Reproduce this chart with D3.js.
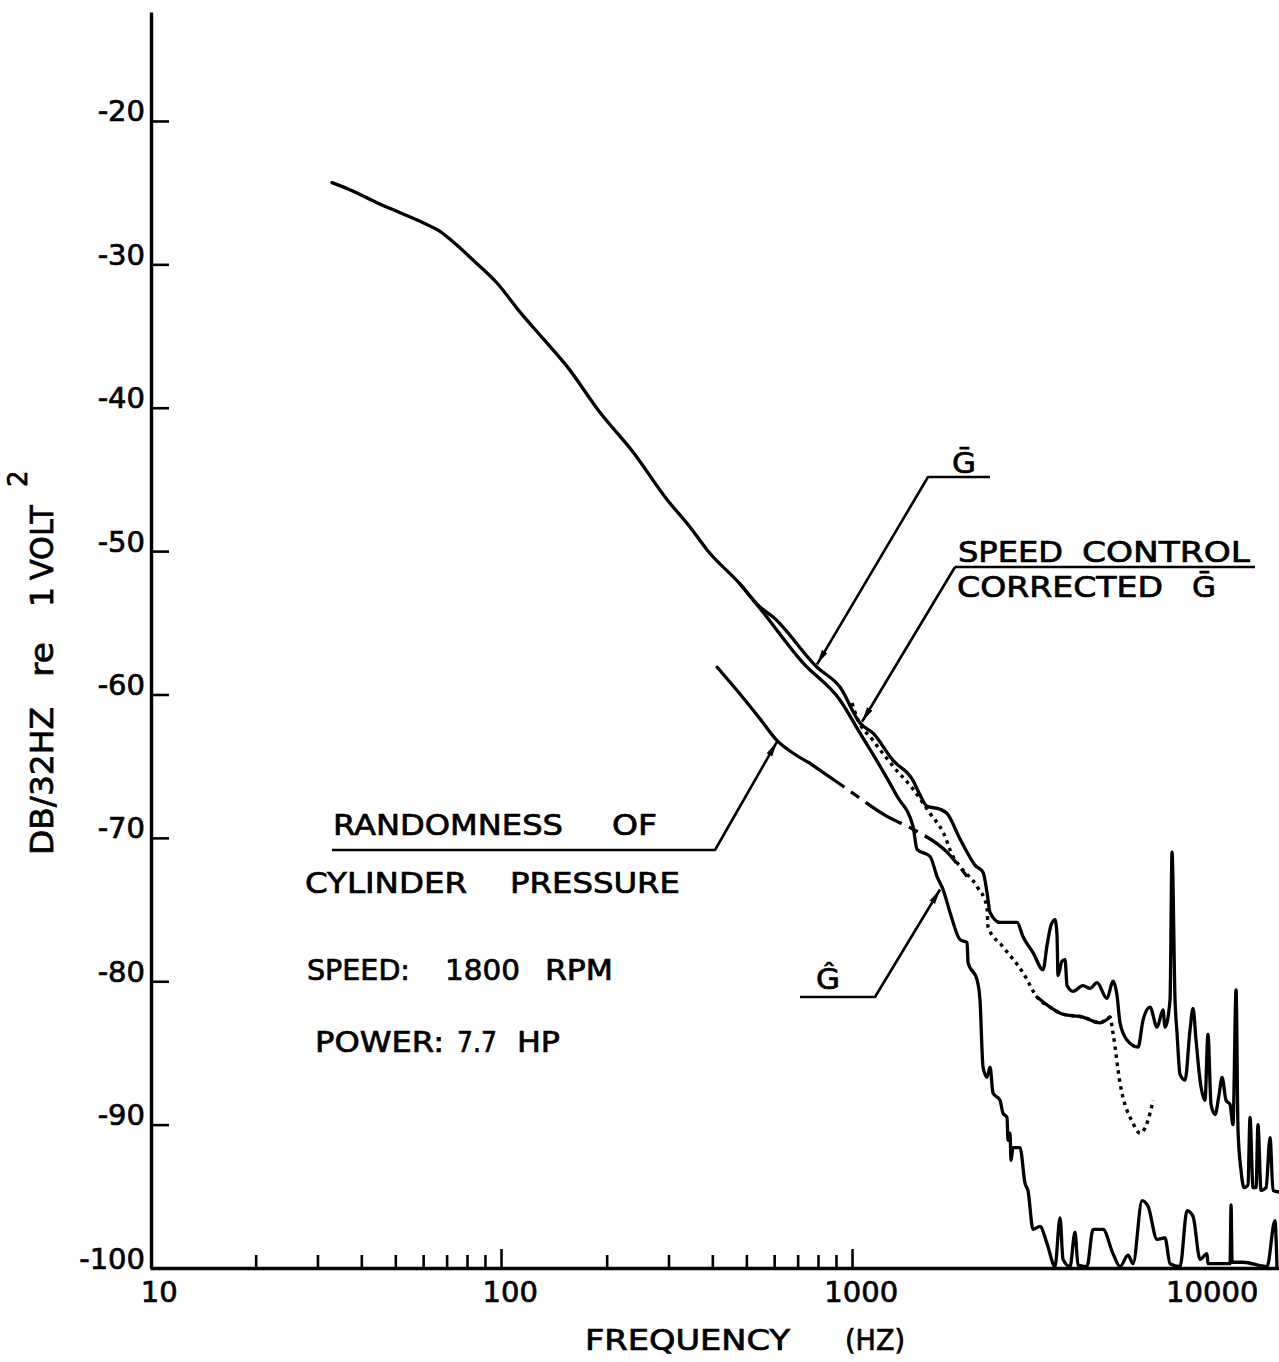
<!DOCTYPE html>
<html><head><meta charset="utf-8">
<script src="https://cdn.jsdelivr.net/npm/d3@7"></script>
<style>body{margin:0;background:#fff}svg{display:block}</style>
</head><body><svg id="c" width="1279" height="1362"></svg>
<script>
// ---------------- data (frequency Hz, level dB) ----------------
const gBarData = [
[33.0,-24.3],[37.1,-24.8],[44.3,-25.7],[51.6,-26.4],[60.0,-27.1],[67.0,-27.7],[74.4,-28.6],[83.2,-29.7],[97.4,-31.3],[113,-33.3],[132,-35.2],[154,-37.1],[191,-40.3],[238,-43.1],[297,-46.4],[345,-48.3],[386,-49.9],[480,-52.3],[547,-53.9],[596,-54.6],[795,-58.1],[925,-59.5],[1054,-62.0],[1148,-62.7],[1309,-64.6],[1492,-66.0],[1562,-67.0],[1636,-67.8],[1781,-68.0],[1865,-68.3],[2032,-70.1],[2127,-71.0],[2240,-71.9],[2362,-72.4],[2424,-73.8],[2473,-75.2],[2640,-75.9],[2952,-75.9],[3070,-76.9],[3278,-78.0],[3501,-79.2],[3594,-77.5],[3689,-76.1],[3787,-75.7],[3837,-76.8],[3863,-79.6],[3966,-78.6],[4045,-78.5],[4098,-80.3],[4261,-80.7],[4550,-80.3],[4767,-80.5],[4989,-80.1],[5325,-81.2],[5539,-80.0],[5689,-81.0],[5801,-82.9],[6074,-84.1],[6530,-84.6],[6748,-82.7],[7063,-81.8],[7395,-83.2],[7691,-82.0],[7793,-83.2],[8054,-81.3],[8160,-71.0],[8322,-81.3],[8432,-83.6],[8600,-86.5],[8887,-86.9],[9183,-83.4],[9365,-81.9],[9552,-84.1],[9806,-86.9],[10130,-88.3],[10330,-83.7],[10540,-88.6],[10820,-89.3],[11110,-87.9],[11330,-86.7],[11630,-88.3],[11940,-88.6],[12170,-90.0],[12420,-80.6],[12580,-90.4],[12830,-93.2],[13090,-94.4],[13430,-94.2],[13610,-89.5],[13880,-94.4],[14160,-94.4],[14340,-90.0],[14630,-94.6],[15120,-94.4],[15520,-90.9],[15830,-94.6],[16460,-94.7]
];
const correctedData = [
[1000,-60.6],[1033,-61.6],[1148,-63.2],[1309,-65.0],[1492,-66.6],[1669,-68.3],[1817,-69.6],[1940,-71.3],[2032,-72.0],[2271,-73.4],[2424,-74.8],[2440,-76.2],[2692,-77.6],[3070,-79.4],[3365,-81.1],[3665,-81.8],[3992,-82.3],[4550,-82.5],[5089,-82.9],[5431,-82.5],[5539,-83.6],[5801,-87.1],[6318,-89.9],[6617,-90.6],[7063,-89.2],[7204,-88.3]
];
const gHatData = [
[480,-52.3],[547,-54.0],[725,-57.8],[925,-60.4],[1054,-62.7],[1202,-65.0],[1344,-67.1],[1492,-69.2],[1532,-70.8],[1669,-71.3],[1747,-72.7],[1817,-73.6],[1902,-75.2],[2032,-77.1],[2127,-77.3],[2141,-78.7],[2271,-79.9],[2315,-81.3],[2362,-86.0],[2424,-86.7],[2473,-86.0],[2522,-87.8],[2640,-88.3],[2692,-89.2],[2764,-89.5],[2782,-91.1],[2819,-90.6],[2838,-92.5],[2874,-91.6],[3010,-91.6],[3111,-94.1],[3172,-94.6],[3278,-97.3],[3432,-97.1],[3594,-98.3],[3787,-99.9],[3914,-96.5],[3992,-99.4],[4179,-99.9],[4318,-97.5],[4404,-99.8],[4671,-99.9],[4862,-97.3],[5190,-97.3],[5539,-99.0],[5801,-99.9],[6114,-99.1],[6318,-99.7],[6704,-95.3],[6972,-95.7],[7395,-98.0],[7793,-97.9],[8054,-99.7],[8600,-99.9],[9005,-96.0],[9365,-96.4],[9806,-99.4],[10265,-99.0],[10330,-99.7],[11940,-99.7],[12020,-95.6],[12100,-99.6],[13000,-99.6],[15220,-99.9],[16030,-96.7],[16240,-99.9]
];
const randomnessData = [
[413,-58.1],[496,-60.4],[547,-61.7],[611,-63.2],[680,-64.1],[759,-64.8],[943,-66.4],[1258,-68.5],[1492,-69.4],[1865,-71.0],[2127,-72.7]
];
const yTickValues = [-100,-90,-80,-70,-60,-50,-40,-30,-20];
const xLabelValues = [10,100,1000,10000];
const xMinorValues = [20,30,40,50,60,70,80,90,200,300,400,500,600,700,800,900];
const xMajorValues = [100,1000];
const freqDomain = [10,16460];
const dbDomain = [-100,-12.4];
// frequency ranges used for line-style switches
const randomnessSolidMax = 759;
const correctedSolidRange = [3365,5431];
// leader tips (data coords)
const tipGBar = [795,-57.9], tipCorrected = [1068,-61.9], tipRandom = [611,-63.3], tipGHat = [1781,-73.6];

// ---------------- drawing ----------------
const FONT = "'DejaVu Sans', sans-serif";
const svg = d3.select("#c");
svg.append("rect").attr("width",1279).attr("height",1362).attr("fill","#fff");
const x = d3.scaleLog().domain(freqDomain).range([150,1279]);
const y = d3.scaleLinear().domain(dbDomain).range([1268,12]);

const defs = svg.append("defs");
defs.append("marker").attr("id","arr").attr("viewBox","0 0 14 7").attr("refX",14).attr("refY",3.5)
  .attr("markerWidth",15).attr("markerHeight",7.5).attr("markerUnits","userSpaceOnUse").attr("orient","auto")
  .append("path").attr("d","M0,0.5 L14,3.5 L0,6.5 Z").attr("fill","#000");

function styleText(sel,size){
  sel.attr("font-family",FONT).attr("font-size",size).attr("fill","#000")
     .attr("stroke","#000").attr("stroke-width",0.7);
}

// Y axis
const yAx = svg.append("g").attr("transform","translate(151,0)")
  .call(d3.axisLeft(y).tickValues(yTickValues).tickSizeInner(-18).tickSizeOuter(0).tickPadding(6).tickFormat(d=>String(d)));
yAx.select(".domain").attr("stroke","#000").attr("stroke-width",3.4);
yAx.selectAll(".tick line").attr("stroke","#000").attr("stroke-width",2.6);
styleText(yAx.selectAll(".tick text").attr("dy","0"),29);

// X axis (labels + baseline)
const xAx = svg.append("g").attr("transform","translate(0,1268)")
  .call(d3.axisBottom(x).tickValues(xLabelValues).tickSize(0).tickPadding(13).tickFormat(d=>String(d)));
xAx.select(".domain").attr("stroke","#000").attr("stroke-width",3.4);
styleText(xAx.selectAll(".tick text").attr("dx","0.3em"),29);
const xMinor = svg.append("g").attr("transform","translate(0,1268)")
  .call(d3.axisBottom(x).tickValues(xMinorValues).tickSizeInner(-13).tickSizeOuter(0).tickFormat(""));
xMinor.select(".domain").remove();
xMinor.selectAll(".tick line").attr("stroke","#000").attr("stroke-width",2.6);
const xMajor = svg.append("g").attr("transform","translate(0,1268)")
  .call(d3.axisBottom(x).tickValues(xMajorValues).tickSizeInner(-19).tickSizeOuter(0).tickFormat(""));
xMajor.select(".domain").remove();
xMajor.selectAll(".tick line").attr("stroke","#000").attr("stroke-width",2.6);

// curves
const line = d3.line().x(d=>x(d[0])).y(d=>y(d[1])).curve(d3.curveMonotoneX);
function drawCurve(data, dash, w){
  return svg.append("path").attr("d",line(data)).attr("fill","none").attr("stroke","#000")
    .attr("stroke-width",w||3.3).attr("stroke-linejoin","round").attr("stroke-linecap",dash?"butt":"round")
    .attr("stroke-dasharray",dash||null);
}
drawCurve(gBarData);
drawCurve(gHatData);
drawCurve(correctedData,"3.5,4.5",3.4);
drawCurve(correctedData.filter(d=>d[0]>=correctedSolidRange[0]&&d[0]<=correctedSolidRange[1]));
drawCurve(randomnessData.filter(d=>d[0]<=randomnessSolidMax));
drawCurve(randomnessData.filter(d=>d[0]>=randomnessSolidMax),"42,8,10,8",3.3);

// leaders
const P = d=>[x(d[0]),y(d[1])];
function leader(pts, arrow){
  svg.append("path").attr("d",d3.line()(pts)).attr("fill","none").attr("stroke","#000")
    .attr("stroke-width",2.6).attr("stroke-linejoin","round").attr("marker-end",arrow?"url(#arr)":null);
}
leader([[990,477],[928,477],P(tipGBar)],true);
leader([[1255,567],[955,567]],false);
leader([[955,567],P(tipCorrected)],true);
leader([[332,850],[715,850],P(tipRandom)],true);
leader([[800,997],[875,997],P(tipGHat)],true);

// annotation words: text, left, right, baseline
const words = [
 ["RANDOMNESS",333,563,835],["OF",612,657,835],
 ["CYLINDER",305,467,893],["PRESSURE",510,680,893],
 ["SPEED:",307,410,980],["1800",445,520,980],["RPM",545,613,980],
 ["POWER:",315,444,1052],["7.7",457,497,1052],["HP",517,560,1052],
 ["SPEED",958,1063,562],["CONTROL",1082,1250,562],
 ["CORRECTED",957,1163,597],["\u1E20",1192,1216,597],
 ["\u1E20",952,976,473],["\u011C",816,840,989],
 ["FREQUENCY",585,790,1350],["(HZ)",845,905,1350]
];
words.forEach(w=>{
  styleText(svg.append("text").attr("x",w[1]).attr("y",w[3]).attr("textLength",w[2]-w[1])
   .attr("lengthAdjust","spacingAndGlyphs").text(w[0]),28);
});

// Y axis title (rotated)
const yTitle = [["DB/32HZ",855,707],["re",677,642],["1",607,587],["VOLT",580,505]];
yTitle.forEach(t=>{
  styleText(svg.append("text").attr("transform",`translate(53,${t[1]}) rotate(-90)`)
   .attr("textLength",t[1]-t[2]).attr("lengthAdjust","spacingAndGlyphs").text(t[0]),32);
});
styleText(svg.append("text").attr("transform","translate(27,487) rotate(-90)").text("2"),26);
</script></body></html>
